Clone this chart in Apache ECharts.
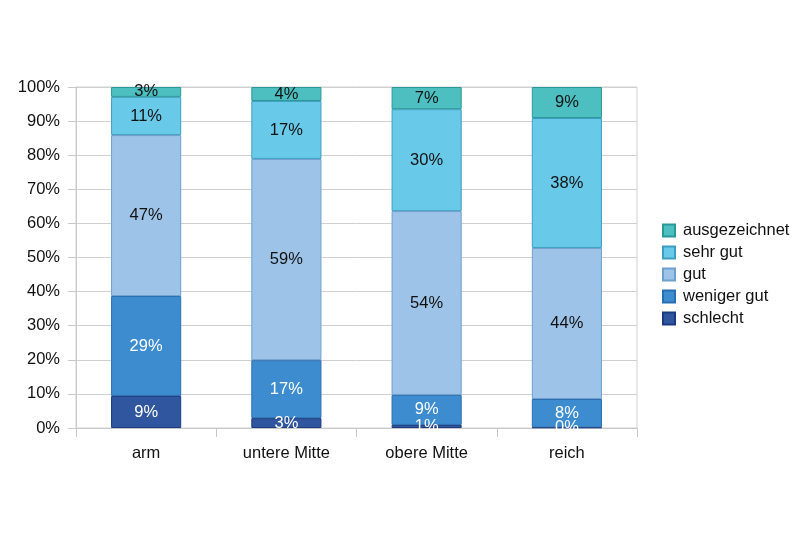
<!DOCTYPE html>
<html><head><meta charset="utf-8">
<script src="https://cdn.jsdelivr.net/npm/echarts@6/dist/echarts.min.js"></script>
<style>html,body{margin:0;padding:0;background:#fff}#c{width:812px;height:535px}</style>
</head><body><div id="c"></div>
<script>
var categories = ['arm', 'untere Mitte', 'obere Mitte', 'reich'];
var schlecht = [9.4, 2.9, 0.9, 0.2];
var wenigerGut = [29.3, 17.0, 8.8, 8.3];
var gut = [47.2, 59.0, 53.9, 44.3];
var sehrGut = [11.2, 17.0, 29.9, 38.1];
var ausgezeichnet = [2.9, 4.1, 6.5, 9.1];
var seriesNames = ['schlecht', 'weniger gut', 'gut', 'sehr gut', 'ausgezeichnet'];
var yTicks = [0, 10, 20, 30, 40, 50, 60, 70, 80, 90, 100];

var colors = ['#2F569E', '#3D8CCF', '#9DC4E8', '#68C9E8', '#4EBFC0'];
var borders = ['#1C3A80', '#2A6EB0', '#6F9FCC', '#3E9EC2', '#2A9898'];
var labelColors = ['#ffffff', '#ffffff', '#111111', '#111111', '#111111'];
var dataSets = [schlecht, wenigerGut, gut, sehrGut, ausgezeichnet];

var series = dataSets.map(function (d, i) {
  return {
    name: seriesNames[i], type: 'bar', stack: 'all', barWidth: '50%',
    data: d,
    itemStyle: { color: colors[i], borderColor: borders[i], borderWidth: 1 },
    label: {
      show: true, position: 'inside', color: labelColors[i],
      fontFamily: 'Liberation Sans', fontSize: 16.5,
      formatter: function (p) { return Math.round(p.value) + '%'; }
    },
    emphasis: { disabled: true }
  };
});

var chart = echarts.init(document.getElementById('c'));
chart.setOption({
  animation: false,
  backgroundColor: '#fff',
  textStyle: { fontFamily: 'Liberation Sans' },
  grid: { left: 76, right: 175, top: 87, bottom: 107, show: true, borderColor: '#d0d0d0', borderWidth: 1 },
  legend: {
    orient: 'vertical', left: 657, top: 217,
    data: seriesNames.slice().reverse(),
    itemWidth: 12, itemHeight: 12, itemGap: 5,
    icon: 'rect',
    textStyle: { fontSize: 16.5, color: '#111', fontFamily: 'Liberation Sans', padding: [0, 0, 0, 3] }
  },
  xAxis: {
    type: 'category', data: categories,
    axisLine: { lineStyle: { color: '#c8c8c8' } },
    axisTick: { show: true, length: 9, lineStyle: { color: '#c8c8c8' } },
    axisLabel: { fontSize: 16.5, color: '#111', margin: 17 }
  },
  yAxis: {
    type: 'value', min: yTicks[0], max: yTicks[yTicks.length - 1], interval: 10,
    axisLine: { show: true, lineStyle: { color: '#c8c8c8' } },
    axisTick: { show: true, length: 8, lineStyle: { color: '#c8c8c8' } },
    splitLine: { lineStyle: { color: '#d0d0d0' } },
    axisLabel: { fontSize: 16.5, color: '#111', margin: 16, formatter: '{value}%' }
  },
  series: series
});
</script></body></html>
